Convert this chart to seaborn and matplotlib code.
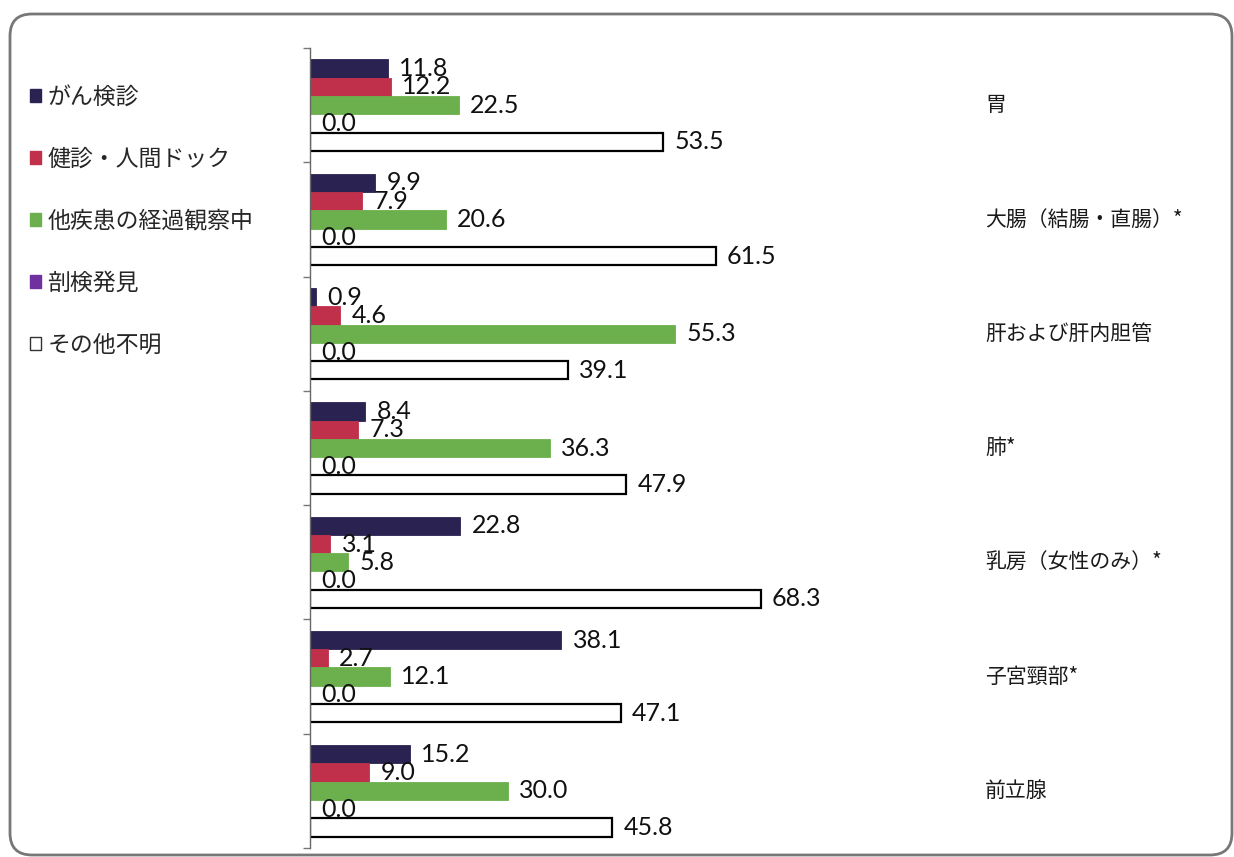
import pandas as pd
import numpy as np
import seaborn as sns
import matplotlib.pyplot as plt
from matplotlib.patches import FancyBboxPatch

# Data (percent)
sites = ['胃', '大腸（結腸・直腸）*', '肝および肝内胆管', '肺*',
         '乳房（女性のみ）*', '子宮頸部*', '前立腺']
series = ['がん検診', '健診・人間ドック', '他疾患の経過観察中', '剖検発見', 'その他不明']
cancer_screening = [11.8, 9.9, 0.9, 8.4, 22.8, 38.1, 15.2]
health_checkup = [12.2, 7.9, 4.6, 7.3, 3.1, 2.7, 9.0]
other_disease = [22.5, 20.6, 55.3, 36.3, 5.8, 12.1, 30.0]
autopsy = [0.0, 0.0, 0.0, 0.0, 0.0, 0.0, 0.0]
other_unknown = [53.5, 61.5, 39.1, 47.9, 68.3, 47.1, 45.8]

colors = ['#2a2352', '#c0304a', '#6cb04d', '#7030a0', '#ffffff']

df = pd.DataFrame({
    'site': sites * 5,
    'series': np.repeat(series, len(sites)),
    'value': cancer_screening + health_checkup + other_disease + autopsy + other_unknown,
})

sns.set_style('white')
plt.rcParams['font.family'] = ['Noto Sans CJK JP', 'DejaVu Sans']

fig = plt.figure(figsize=(12.34, 8.57), dpi=100)
ax = fig.add_axes([310 / 1234, 1 - 848 / 857, 660 / 1234, 800 / 857])

sns.barplot(data=df, y='site', x='value', hue='series', hue_order=series,
            order=sites, palette=colors, orient='h', width=0.8,
            saturation=1, ax=ax, legend=True, linewidth=0)

for i, cont in enumerate(ax.containers):
    for bar in cont:
        if series[i] == 'その他不明':
            bar.set_edgecolor('black')
            bar.set_linewidth(1.6)
        else:
            bar.set_edgecolor(colors[i])
            bar.set_linewidth(0.6)
    ax.bar_label(cont, fmt='%.1f', padding=8, fontsize=18,
                 family=['Lato', 'DejaVu Sans'], color='#111111')

ax.set_xlim(0, 100)
ax.set_ylim(len(sites) - 0.5, -0.5)
ax.set_xlabel('')
ax.set_ylabel('')
ax.set_xticks([])
ax.set_yticks(np.arange(-0.5, len(sites), 1))
ax.set_yticklabels([])
ax.tick_params(axis='y', length=5, width=1, color='#777777', direction='out', left=True)
for side in ['top', 'right', 'bottom']:
    ax.spines[side].set_visible(False)
ax.spines['left'].set_color('#666666')
ax.spines['left'].set_linewidth(1)

# category names on the right
for i, s in enumerate(sites):
    ax.text(1.023, i, s, transform=ax.get_yaxis_transform(), ha='left',
            va='center', fontsize=15, color='#1a1a1a', clip_on=False)

# legend on the left
handles, labels = ax.get_legend_handles_labels()
ax.get_legend().remove()
for h, c in zip(handles, colors):
    h.set_edgecolor('#333333' if c == '#ffffff' else c)
    h.set_linewidth(1)
fig.legend(handles, labels, loc='upper left', bbox_to_anchor=(30 / 1234, 1 - 86 / 857),
           frameon=False, fontsize=16.5, handlelength=0.5, handleheight=0.5,
           handletextpad=0.25, labelspacing=1.7, borderpad=0, borderaxespad=0)

# rounded outer frame
frame = FancyBboxPatch((10, 2), 1222, 841, boxstyle='round,pad=0,rounding_size=22',
                       transform=None, facecolor='none', edgecolor='#777777',
                       linewidth=2, zorder=-1)
fig.patches.append(frame)

fig.savefig('out.png', dpi=100)
plt.close(fig)
